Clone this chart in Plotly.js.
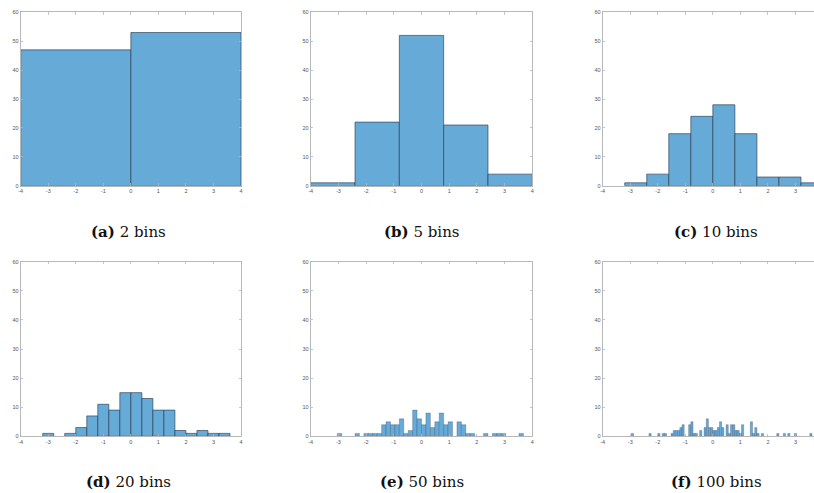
<!DOCTYPE html>
<html>
<head>
<meta charset="utf-8">
<script src="https://cdn.plot.ly/plotly-3.0.1.min.js"></script>
<style>html,body{margin:0;padding:0;background:#fff;}#chart{width:814px;height:493px;}</style>
</head>
<body>
<div id="chart"></div>
<script>
// Histogram counts (100 samples, bins spanning -4 .. 4)
const binLow = -4;
const binHigh = 4;
const counts2 = [47, 53];
const counts5 = [1, 22, 52, 21, 4];
const counts10 = [0, 1, 4, 18, 24, 28, 18, 3, 3, 1];
const counts20 = [0, 0, 1, 0, 1, 3, 7, 11, 9, 15, 15, 13, 9, 9, 2, 1, 2, 1, 1, 0];
const counts50 = [
  0,0,0,0,0,0,1,0,0,0,
  1,0,1,1,1,1,4,5,4,4,
  6,1,2,9,6,4,8,3,5,8,
  4,5,0,5,4,1,1,0,0,1,
  0,1,1,1,0,0,0,1,0,0
];
const counts100 = [
  0,0,0,0,0,0,0,0,0,0,
  0,0,0,1,0,0,0,0,0,0,
  0,1,0,0,0,1,0,1,1,0,
  0,1,2,2,2,3,4,0,0,4,
  5,1,1,0,2,0,3,6,3,3,
  2,2,3,5,3,0,4,1,4,4,
  2,2,1,4,0,0,0,5,1,3,
  1,0,1,0,0,0,0,0,0,1,
  0,0,1,0,1,0,0,1,0,0,
  0,0,0,0,1,0,0,0,0,0
];
const captionLetters = ['(a)', '(b)', '(c)', '(d)', '(e)', '(f)'];
const captionTexts = ['2 bins', '5 bins', '10 bins', '20 bins', '50 bins', '100 bins'];
const yTicks = [0, 10, 20, 30, 40, 50, 60];
const xTicks = [-4, -3, -2, -1, 0, 1, 2, 3, 4];

const allCounts = [counts2, counts5, counts10, counts20, counts50, counts100];

// layout geometry (pixels)
const W = 814, H = 493;
const colX = [[20.7, 241], [310.7, 532.3], [602.7, 814]];
const rowY = [[12.3, 185.7], [261.7, 436.3]];
const captionCx = [128, 422, 716];
const captionCy = [232, 482];
const unitPx = (241 - 20.7) / 8;

const data = [];
const layout = {
  width: W, height: H,
  margin: {l: 0, r: 0, t: 0, b: 0},
  paper_bgcolor: '#fff', plot_bgcolor: '#fff',
  showlegend: false,
  bargap: 0,
  annotations: []
};

allCounts.forEach((counts, p) => {
  const n = counts.length;
  const w = (binHigh - binLow) / n;
  const xs = [], ys = [], ws = [];
  counts.forEach((c, i) => {
    if (c > 0) { xs.push(binLow + (i + 0.5) * w); ys.push(c); ws.push(w); }
  });
  const idx = p + 1;
  const xa = idx === 1 ? 'x' : 'x' + idx;
  const ya = idx === 1 ? 'y' : 'y' + idx;
  const lineW = n >= 50 ? 0.5 : 0.8;
  data.push({
    type: 'bar', x: xs, y: ys, width: ws,
    xaxis: xa, yaxis: ya,
    marker: {color: 'rgb(102,170,215)', line: {color: n >= 50 ? 'rgba(40,60,80,0.55)' : 'rgba(40,60,80,0.8)', width: lineW}},
    hoverinfo: 'skip'
  });
  const col = p % 3, row = Math.floor(p / 3);
  const [x0, x1] = colX[col];
  const [y0, y1] = rowY[row];
  const clipped = col === 2;
  const xmax = clipped ? binLow + (x1 - x0) / unitPx : binHigh;
  const axisCommon = {
    showgrid: false, zeroline: false, showline: true,
    linecolor: '#b8b8b8', linewidth: 1,
    ticks: 'inside', ticklen: 2.5, tickcolor: '#b8b8b8', tickwidth: 0.8,
    tickfont: {family: 'Liberation Sans, Arial, sans-serif', size: 5.5, color: '#555'},
    fixedrange: true
  };
  layout['xaxis' + (idx === 1 ? '' : idx)] = Object.assign({}, axisCommon, {
    domain: [x0 / W, x1 / W], range: [binLow, xmax],
    tickvals: xTicks, ticktext: xTicks.map(String),
    anchor: ya, mirror: 'ticks'
  });
  layout['yaxis' + (idx === 1 ? '' : idx)] = Object.assign({}, axisCommon, {
    domain: [(H - y1) / H, (H - y0) / H], range: [0, 60],
    tickvals: yTicks, ticktext: yTicks.map(String),
    anchor: xa, mirror: clipped ? false : 'ticks'
  });
  layout.annotations.push({
    xref: 'paper', yref: 'paper',
    x: captionCx[col] / W,
    y: (H - captionCy[row]) / H,
    xanchor: 'center', yanchor: 'middle', showarrow: false,
    text: '<b>' + captionLetters[p] + '</b> ' + captionTexts[p],
    font: {family: 'DejaVu Serif, Liberation Serif, serif', size: 15, color: '#111'}
  });
});

Plotly.newPlot('chart', data, layout, {staticPlot: true, displayModeBar: false});
</script>
</body>
</html>
